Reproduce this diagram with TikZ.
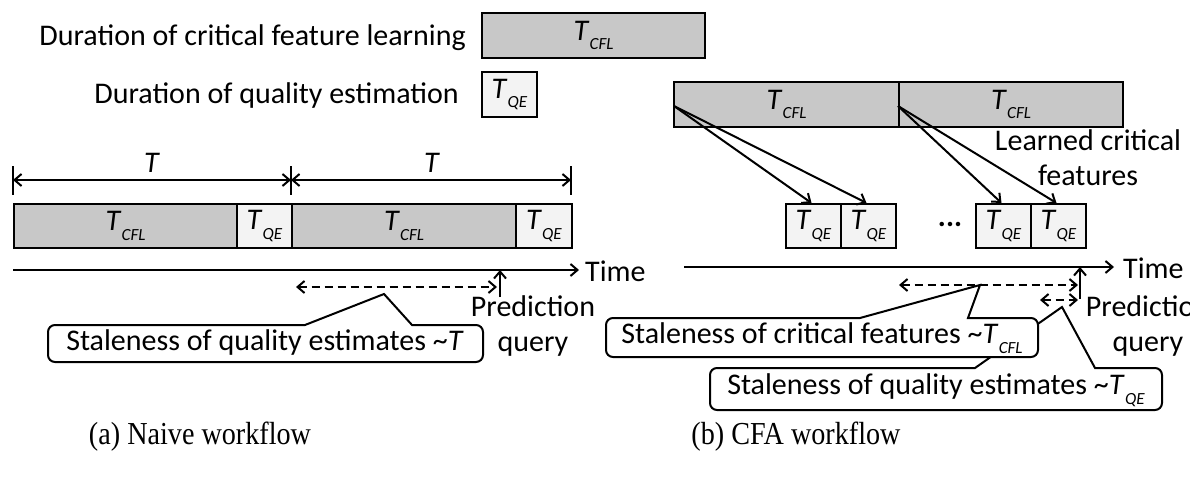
\documentclass[tikz,border=0pt]{standalone}
\usepackage{fontspec}
\setmainfont{Carlito}
\newfontfamily\capfont{Liberation Serif}
\usetikzlibrary{arrows.meta}
\definecolor{cflgray}{RGB}{200,200,200}
\definecolor{qelight}{RGB}{243,243,243}
\newcommand\TS[1]{\textit{T}\kern0.01em\raisebox{-0.32em}{\fontsize{17}{17}\selectfont\textit{#1}}}
\begin{document}
\begin{tikzpicture}[x=1pt,y=-1pt,
  font=\fontsize{30}{35}\selectfont,
  cflbox/.style={draw, line width=2pt, fill=cflgray, minimum height=45pt, inner sep=0pt, anchor=north west},
  qebox/.style={draw, line width=2pt, fill=qelight, minimum width=55pt, minimum height=44pt, inner sep=0pt, anchor=north west},
  ln/.style={line width=2pt},
  tipend/.style={-{Straight Barb[length=7pt,width=12pt]}},
  dbl/.style={{Straight Barb[length=7pt,width=12pt]}-{Straight Barb[length=7pt,width=12pt]}},
  dsh/.style={line width=2pt, dash pattern=on 8pt off 5pt},
  callout/.style={line width=2pt, fill=white},
  txt/.style={inner sep=0pt},
  caption/.style={font=\capfont\fontsize{32}{36}\selectfont, xscale=0.88, inner sep=0pt}]
\useasboundingbox (0,0) rectangle (1190,478);
\clip (0,0) rectangle (1190,478);
\fill[white] (0,0) rectangle (1190,478);

% legend
\node[txt, anchor=east] (legtxt1) at (466,38) {Duration of critical feature learning};
\node[cflbox, minimum width=223pt] (legcfl) at (481,12) {\TS{CFL}};
\node[txt, anchor=east] (legtxt2) at (459,96) {Duration of quality estimation};
\node[qebox, minimum height=45pt] (legqe) at (481,71) {\TS{QE}};

% ---------- naive workflow
\coordinate (t0) at (13,180);
\coordinate (t1) at (291,180);
\coordinate (t2) at (571,180);
\foreach \c in {t0,t1,t2} \draw[ln] ([yshift=-15pt]\c) -- ([yshift=14pt]\c);
\draw[ln,dbl] (t0) -- (t1);
\draw[ln,dbl] (t1) -- (t2);
\node[txt] (tlab1) at (152,163) {\textit{T}};
\node[txt] (tlab2) at (432,163) {\textit{T}};

\node[cflbox, minimum width=223pt, minimum height=44pt] (n1) at (13,203) {\TS{CFL}};
\node[qebox] (n2) at (236,203) {\TS{QE}};
\node[cflbox, minimum width=224pt, minimum height=44pt] (n3) at (291,203) {\TS{CFL}};
\node[qebox, minimum width=56pt] (n4) at (515,203) {\TS{QE}};

\coordinate (tla) at (13,270);
\coordinate (tlb) at (579,270);
\draw[ln,tipend] (tla) -- (tlb);
\node[txt, anchor=west] (time1) at (585,271) {Time};

\coordinate (pq1) at (500,297);
\draw[ln,tipend] (pq1) -- (pq1 |- tla);
\coordinate (ds1a) at (296,287);
\coordinate (ds1b) at (497,287);
\draw[dsh,dbl] (ds1a) -- (ds1b);
\node[txt, align=center] (pred1) at (533,326) {Prediction\\query};

\draw[callout] (305,325) [rounded corners=7pt] -- (48,325) -- (48,362) -- (483,362) -- (483,325) [sharp corners] -- (412,325) -- (384,294) -- cycle;
\node[txt] (stale1) at (265,343) {Staleness of quality estimates \textasciitilde\textit{T}};

% ---------- CFA workflow
\node[cflbox, minimum width=225pt] (c1) at (673,81) {\TS{CFL}};
\node[cflbox, minimum width=224pt] (c2) at (898,81) {\TS{CFL}};

\node[qebox] (qa) at (785,203) {\TS{QE}};
\node[qebox] (qb) at (840,203) {\TS{QE}};
\node[qebox] (qc) at (975,203) {\TS{QE}};
\node[qebox] (qd) at (1030,203) {\TS{QE}};
\node[txt] (dots) at (950,224) {\textbf{...}};

\coordinate (s1) at (674,106);
\coordinate (s2) at (898,106);
\draw[ln,tipend] (s1) -- ([xshift=-2pt]qa.north);
\draw[ln,tipend] (s1) -- ([xshift=-2pt]qb.north);
\draw[ln,tipend] (s2) -- ([xshift=-2pt]qc.north);
\draw[ln,tipend] (s2) -- ([xshift=-2pt]qd.north);
\node[txt, align=center] (learned) at (1088,158) {Learned critical\\features};

\coordinate (tl2a) at (684,267);
\coordinate (tl2b) at (1114,267);
\draw[ln,tipend] (tl2a) -- (tl2b);
\node[txt, anchor=west] (time2) at (1123,268) {Time};

\coordinate (pq2) at (1080,299);
\draw[ln,tipend] (pq2) -- (pq2 |- tl2a);
\coordinate (ds2a) at (899,285);
\coordinate (ds2b) at (1078,285);
\draw[dsh,dbl] (ds2a) -- (ds2b);
\coordinate (ds3a) at (1040,300);
\coordinate (ds3b) at (1078,300);
\draw[dsh,dbl] (ds3a) -- (ds3b);
\node[txt, align=center] (pred2) at (1148,326) {Prediction\\query};

\draw[callout] (975,368) [rounded corners=7pt] -- (710,368) -- (710,410) -- (1162,410) -- (1162,368) [sharp corners] -- (1095,368) -- (1062,307) -- cycle;
\draw[callout] (860,318) [rounded corners=7pt] -- (606,318) -- (606,357) -- (1038,357) -- (1038,318) [sharp corners] -- (968,318) -- (980,285) -- cycle;
\node[txt] (stale2) at (822,338) {Staleness of critical features \textasciitilde\TS{CFL}};
\node[txt] (stale3) at (936,390) {Staleness of quality estimates \textasciitilde\TS{QE}};

% captions
\node[caption] (capa) at (200,437) {(a) Naive workflow};
\node[caption] (capb) at (796,437) {(b) CFA workflow};
\end{tikzpicture}
\end{document}
